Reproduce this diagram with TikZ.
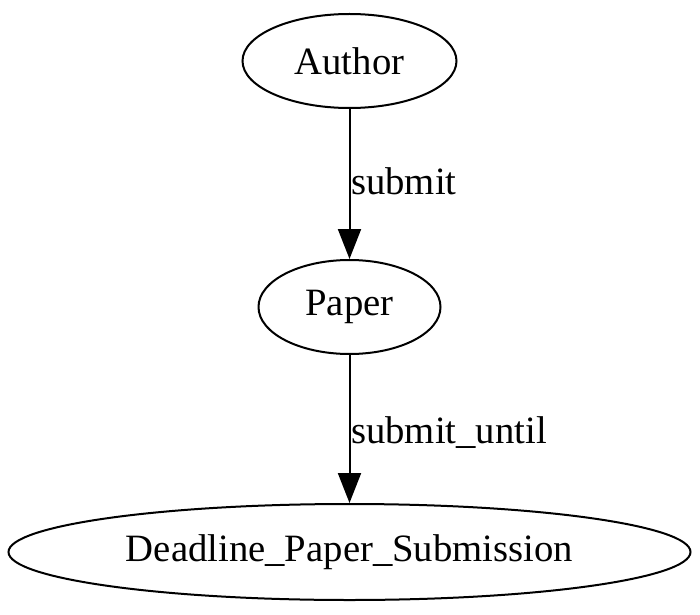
\documentclass[tikz,border=0pt]{standalone}
\usepackage{fontspec}
\setmainfont{Liberation Serif}
\usetikzlibrary{arrows.meta,shapes.geometric}
\begin{document}
\begin{tikzpicture}[x=1pt,y=1pt,
  ell/.style={draw,ellipse,line width=2pt,inner sep=0pt,font=\fontsize{38.7}{46}\selectfont},
  lbl/.style={inner sep=0pt,anchor=base west,font=\fontsize{38.7}{46}\selectfont},
  conn/.style={line width=2pt,-{Triangle[length=30pt,width=23pt]}}]
\useasboundingbox (0,0) rectangle (700,614);
\node[ell,minimum width=214pt,minimum height=94pt] (author) at (349.5,553) {Author};
\node[ell,minimum width=182pt,minimum height=94pt] (paper) at (349.5,307) {Paper};
\node[ell,minimum width=682pt,minimum height=96pt] (deadline) at (349.5,62) {Deadline\_Paper\_Submission};
\draw[conn] (author) -- (paper);
\draw[conn] (paper) -- (deadline);
\node[lbl] (l1) at (351,419) {submit};
\node[lbl] (l2) at (351,171) {submit\_until};
\end{tikzpicture}
\end{document}
